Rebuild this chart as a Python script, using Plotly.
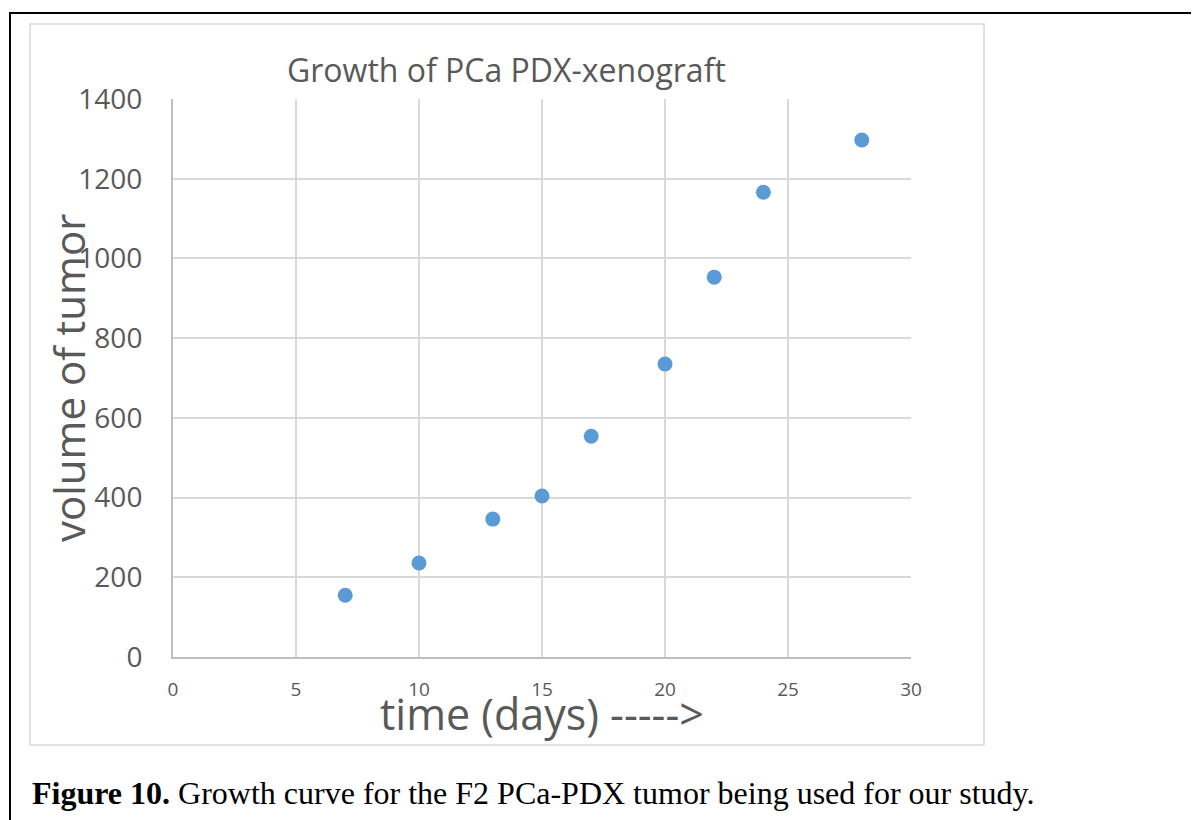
import plotly.graph_objects as go

days = [7, 10, 13, 15, 17, 20, 22, 24, 28]
volume = [155, 236, 346, 404, 554, 735, 953, 1166, 1297]
x_ticks = [0, 5, 10, 15, 20, 25, 30]
y_ticks = [0, 200, 400, 600, 800, 1000, 1200, 1400]

OFF = 8  # page body margin
W, H = 1199 - OFF, 820 - OFF
L, R, T, B = 173 - OFF, 911 - OFF, 99 - OFF, 657 - OFF

def px(x):
    return (x - OFF - L) / (R - L)

def py(y):
    return (B - (y - OFF)) / (B - T)

fig = go.Figure()
fig.add_trace(go.Scatter(
    x=days, y=volume, mode="markers",
    marker=dict(color="#5B9BD5", size=15, line=dict(width=0)),
    showlegend=False, hoverinfo="x+y",
))

txt = "#595959"
fig.update_layout(
    width=W, height=H,
    margin=dict(l=L, r=W - R, t=T, b=H - B, pad=0),
    paper_bgcolor="white", plot_bgcolor="white",
    font=dict(family="Open Sans", color=txt),
    xaxis=dict(range=[0, 30], tickvals=x_ticks, showgrid=True, gridcolor="#D9D9D9", gridwidth=1.5,
               showline=True, linecolor="#BFBFBF", linewidth=2, zeroline=False,
               ticks="", tickfont=dict(size=19, color=txt, family="Open Sans"),
               ticklabelstandoff=14, fixedrange=True),
    yaxis=dict(range=[0, 1400], tickvals=y_ticks, showgrid=True, gridcolor="#D9D9D9", gridwidth=1.5,
               showline=True, linecolor="#BFBFBF", linewidth=2, zeroline=False,
               ticks="", tickfont=dict(size=28, color=txt, family="Open Sans"),
               ticklabelstandoff=23, fixedrange=True),
    shapes=[
        dict(type="rect", xref="paper", yref="paper",
             x0=px(10), x1=px(1215), y0=py(835), y1=py(13),
             line=dict(color="black", width=2), fillcolor="rgba(0,0,0,0)", layer="below"),
        dict(type="rect", xref="paper", yref="paper",
             x0=px(30), x1=px(984), y0=py(745), y1=py(24),
             line=dict(color="#D9D9D9", width=1.5), fillcolor="rgba(0,0,0,0)", layer="below"),
    ],
    annotations=[
        dict(text="Growth of PCa PDX-xenograft", xref="paper", yref="paper",
             x=px(506), y=py(70), xanchor="center", yanchor="middle", showarrow=False,
             font=dict(size=32, color=txt, family="Open Sans")),
        dict(text="volume of tumor", xref="paper", yref="paper",
             x=px(68), y=py(378), xanchor="center", yanchor="middle", showarrow=False,
             textangle=-90, font=dict(size=42, color=txt, family="Open Sans")),
        dict(text="time (days) ----->", xref="paper", yref="paper",
             x=px(542), y=py(713), xanchor="center", yanchor="middle", showarrow=False,
             font=dict(size=43, color=txt, family="Open Sans")),
        dict(text="<b>Figure 10.</b> Growth curve for the F2 PCa-PDX tumor being used for our study.",
             xref="paper", yref="paper", x=px(30), y=py(793), xanchor="left", yanchor="middle",
             showarrow=False, font=dict(size=32, color="black", family="Liberation Serif")),
    ],
)

fig.write_html("out.html", config={"displayModeBar": False})
